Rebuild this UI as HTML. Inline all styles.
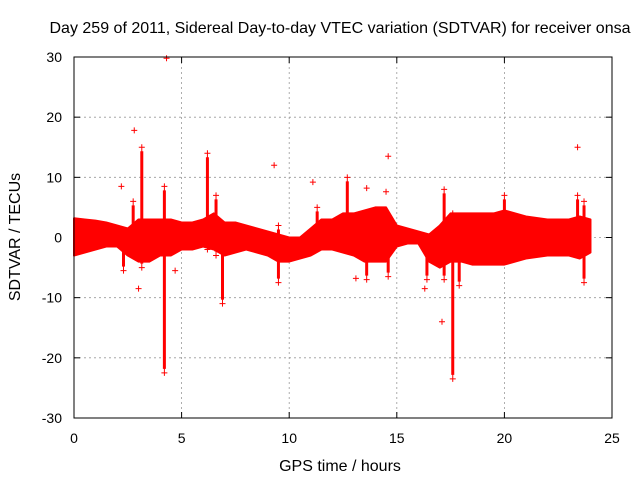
<!DOCTYPE html>
<html><head><meta charset="utf-8"><style>
body{margin:0;background:#fff;font-family:"Liberation Sans",sans-serif;}
svg text{font-family:"Liberation Sans",sans-serif;font-size:14px;fill:#000;}
svg text.big{font-size:16px;}
</style></head><body>
<svg id="chart" width="640" height="480" viewBox="0 0 640 480">
<rect width="640" height="480" fill="#fff"/>
<text class="big" x="340" y="33" text-anchor="middle">Day 259 of 2011, Sidereal Day-to-day VTEC variation (SDTVAR) for receiver onsa</text>
<text class="big" x="340" y="471" text-anchor="middle">GPS time / hours</text>
<text class="big" transform="translate(20,237) rotate(-90)" text-anchor="middle">SDTVAR / TECUs</text>
<g id="grid"></g><g id="ticks"></g><g id="marks"></g>
<rect x="74" y="57" width="538" height="361" fill="none" stroke="#000"/>
</svg>
<script>
const xTicks=[0,5,10,15,20,25];
const yTicks=[-30,-20,-10,0,10,20,30];
const bandTimes=[0,0.5,1,1.5,2,2.5,3,3.5,4,4.5,5,5.5,6,6.5,7,7.5,8,8.5,9,9.5,10,10.5,11,11.5,12,12.5,13,13.5,14,14.5,15,15.5,16,16.5,17,17.5,18,18.5,19,19.5,20,21,22,23,23.5,24];
const bandUpper=[3.2,3,2.8,2.5,2,1.5,3,3,3,3,2.5,2.5,3,4,2.5,2.5,2,1.5,1,0.5,0,0,1.5,3,3,4,4,4.5,5,5,2,1.5,1,0.5,2,4,4,4,4,4,4.5,3.5,3,3,3.5,3];
const bandLower=[-3,-2.5,-2,-1.5,-1.5,-3,-4,-4,-3,-3,-2,-2,-1.5,-2,-3,-2.5,-2,-2.5,-3,-4,-4,-3.5,-3,-2,-2,-2.5,-3,-4,-4,-4,-1.5,-1,-1,-4,-5,-4,-4,-4.5,-4.5,-4.5,-4.5,-3.5,-3,-3,-3.5,-2.5];
const spikeT=[2.3,2.75,3.15,4.2,6.2,6.6,6.9,9.5,11.3,12.7,13.6,14.6,16.4,17.2,17.6,17.9,20,23.4,23.7];
const spikeHi=[0,6,15,8.5,14,7,-2,2,5,10,0,2,0,8,4,0,7,7,6];
const spikeLo=[-5.5,-1,-5,-22.5,-2,-3,-11,-7.5,-1,-1,-7,-6.5,-7,-7,-23.5,-8,-4,-3,-7.5];
const outT=[2.2,2.8,3.0,4.3,4.7,9.3,11.1,13.1,13.6,14.5,14.6,16.3,17.1,23.4];
const outV=[8.5,17.8,-8.5,29.8,-5.5,12,9.2,-6.8,8.2,7.6,13.5,-8.5,-14,15];
const X=v=>74+v*538/25, Y=v=>237.5-v*361/60;
const ns="http://www.w3.org/2000/svg";
function mk(t,a,p){const e=document.createElementNS(ns,t);for(const k in a)e.setAttribute(k,a[k]);p.appendChild(e);return e;}
const grid=document.getElementById('grid'),ticks=document.getElementById('ticks'),marks=document.getElementById('marks');
xTicks.forEach(t=>{
 if(t>0&&t<25){const g=mk('line',{x1:X(t),x2:X(t),y1:57,y2:418,stroke:'#999','stroke-dasharray':'2,3','stroke-width':0.8},grid);
 }
 mk('line',{x1:X(t),x2:X(t),y1:418,y2:412,stroke:'#000'},ticks);mk('line',{x1:X(t),x2:X(t),y1:57,y2:63,stroke:'#000'},ticks);
 const l=mk('text',{x:X(t),y:443,'text-anchor':'middle'},ticks);l.textContent=t;
 
});
yTicks.forEach(t=>{
 if(t>-30&&t<30){const g=mk('line',{x1:74,x2:612,y1:Y(t),y2:Y(t),stroke:'#999','stroke-dasharray':'2,3','stroke-width':0.8},grid);
 }
 mk('line',{x1:74,x2:80,y1:Y(t),y2:Y(t),stroke:'#000'},ticks);mk('line',{x1:612,x2:606,y1:Y(t),y2:Y(t),stroke:'#000'},ticks);
 const l=mk('text',{x:62,y:Y(t)+5,'text-anchor':'end'},ticks);l.textContent=t;
 
});
let pts=bandTimes.map((t,i)=>X(t)+','+Y(bandUpper[i]));
for(let i=bandTimes.length-1;i>=0;i--)pts.push(X(bandTimes[i])+','+Y(bandLower[i]));
const band=mk('polygon',{points:pts.join(' '),fill:'#f00',stroke:'#f00','stroke-width':2,'stroke-linejoin':'round'},marks);

spikeT.forEach((t,i)=>{
 const x=X(t),y1=Y(spikeHi[i]),y2=Y(spikeLo[i]);
 const s=mk('path',{d:`M${x-3},${y1}H${x+3}M${x-3},${y2}H${x+3}M${x},${y1-3}V${y2+3}`,stroke:'#f00','stroke-width':1},marks);
 
 const w=mk('line',{x1:x,x2:x,y1:y1+4,y2:y2-4,stroke:'#f00','stroke-width':3},marks);
 
});
outT.forEach((t,i)=>{
 const x=X(t),y=Y(outV[i]);
 const p=mk('path',{d:`M${x-3},${y}H${x+3}M${x},${y-3}V${y+3}`,stroke:'#f00','stroke-width':1},marks);
 
});
</script>
</body></html>
